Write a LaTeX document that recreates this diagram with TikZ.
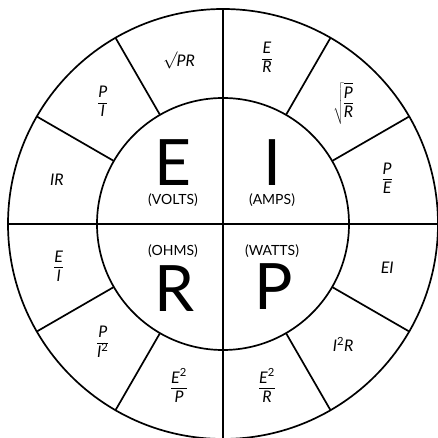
\documentclass[tikz,border=0pt]{standalone}
\usepackage{fontspec}
\setmainfont{Lato}
\usepackage{array}
\setlength{\arrayrulewidth}{1bp}
\newcommand{\fr}[2]{\begin{tabular}{@{}c@{}}#1\\[-0.5bp]\hline\rule{0pt}{13bp}#2\end{tabular}}
\newcommand{\sq}{{\upshape\textsuperscript{2}}}
\tikzset{
  ring/.style={line width=1.7bp},
  lbl/.style={font=\fontsize{16bp}{18bp}\selectfont\itshape, inner sep=0pt},
  big/.style={font=\fontsize{64bp}{64bp}\selectfont, inner sep=0pt},
  unit/.style={font=\fontsize{14bp}{16bp}\selectfont, inner sep=0pt}
}
\begin{document}
\begin{tikzpicture}[x=1bp,y=1bp]
\useasboundingbox (-223,-214) rectangle (215,224);
\coordinate (c) at (0,0);
\draw[ring] (c) circle[radius=215];
\draw[ring] (c) circle[radius=126];
\coordinate (top) at (90:215);
\coordinate (bot) at (-90:215);
\coordinate (lft) at (180:215);
\coordinate (rgt) at (0:215);
\draw[ring] (top) -- (bot);
\draw[ring] (lft) -- (rgt);
\foreach \a in {30,60,120,150,210,240,300,330}{
  \coordinate (i\a) at (\a:126);
  \coordinate (o\a) at (\a:215);
  \draw[ring] (i\a) -- (o\a);
}
% quadrant letters
\node[big] (E) at (-50,61) {E};
\node[big] (I) at (49,61) {I};
\node[big] (R) at (-48,-65) {R};
\node[big] (P) at (51,-63) {P};
\node[unit] (volts) at (-50,24) {(VOLTS)};
\node[unit] (amps) at (49,24) {(AMPS)};
\node[unit] (ohms) at (-50,-27) {(OHMS)};
\node[unit] (watts) at (49,-27) {(WATTS)};
% formulas
\node[lbl] (f75) at (75:170) {\fr{E}{R}};
\node[lbl] (f45) at (45:170) {$\sqrt{\hbox{\fr{P}{R}}}$};
\node[lbl] (f15) at (15:170) {\fr{P}{E}};
\node[lbl] (fm15) at (-15:170) {EI};
\node[lbl] (fm45) at (-45:170) {I\sq R};
\node[lbl] (fm75) at (-75:170) {\fr{E\sq}{R}};
\node[lbl] (fm105) at (-105:170) {\fr{E\sq}{P}};
\node[lbl] (fm135) at (-135:170) {\fr{P}{I\sq}};
\node[lbl] (fm165) at (-165:170) {\fr{E}{I}};
\node[lbl] (f165) at (165:172) {IR};
\node[lbl] (f135) at (135:170) {\fr{P}{I}};
\node[lbl] (f105) at (105:170) {$\sqrt{\vphantom{P}}$\kern-1bp PR};
\end{tikzpicture}
\end{document}
